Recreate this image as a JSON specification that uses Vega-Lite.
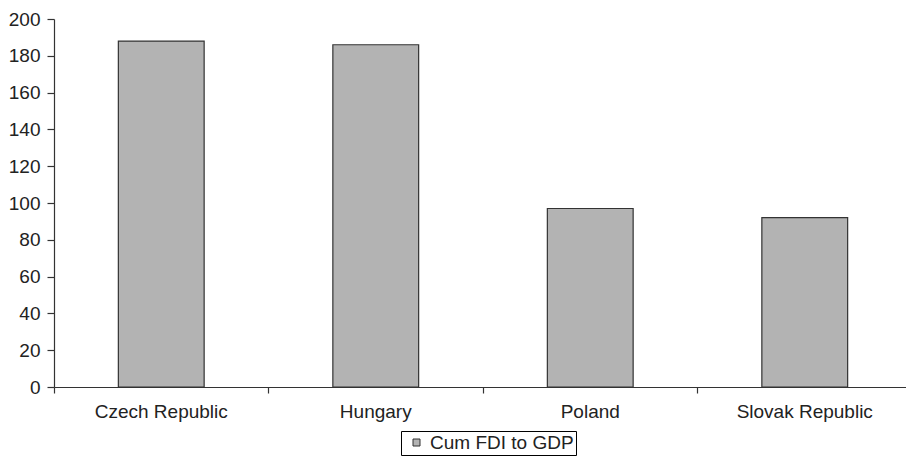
{
  "$schema": "https://vega.github.io/schema/vega-lite/v6.json",
  "autosize": "none",
  "width": 852,
  "height": 368,
  "padding": {"left": 54, "top": 19, "right": 0, "bottom": 72},
  "background": "white",
  "config": {
    "view": {"stroke": null},
    "font": "Liberation Sans",
    "axis": {"labelFont": "Liberation Sans", "labelFontSize": 19, "labelColor": "#222", "domainColor": "#333", "tickColor": "#333", "domainWidth": 1.2, "tickWidth": 1.2, "grid": false, "title": null}
  },
  "data": {
    "values": [
      {"country": "Czech Republic", "value": 188, "series": "Cum FDI to GDP"},
      {"country": "Hungary", "value": 186, "series": "Cum FDI to GDP"},
      {"country": "Poland", "value": 97, "series": "Cum FDI to GDP"},
      {"country": "Slovak Republic", "value": 92, "series": "Cum FDI to GDP"}
    ]
  },
  "mark": {"type": "bar", "stroke": "#333", "strokeWidth": 1.2},
  "encoding": {
    "x": {
      "field": "country",
      "type": "nominal",
      "sort": null,
      "scale": {"paddingInner": 0.6, "paddingOuter": 0.3, "range": [0, 858]},
      "axis": {"labelAngle": 0, "tickSize": 6, "labelPadding": 9, "bandPosition": -0.75}
    },
    "y": {
      "field": "value",
      "type": "quantitative",
      "scale": {"domain": [0, 200], "nice": false},
      "axis": {"values": [0, 20, 40, 60, 80, 100, 120, 140, 160, 180, 200], "tickSize": 7, "labelPadding": 7}
    },
    "color": {
      "field": "series",
      "type": "nominal",
      "scale": {"range": ["#b3b3b3"]},
      "legend": {
        "title": null,
        "orient": "none",
        "legendX": 347,
        "legendY": 412,
        "strokeColor": "#000",
        "padding": 2,
        "symbolType": "square",
        "symbolSize": 49,
        "symbolOffset": 4,
        "symbolStrokeColor": "#333",
        "symbolStrokeWidth": 1,
        "labelFont": "Liberation Sans",
        "labelFontSize": 19,
        "labelColor": "#222",
        "labelOffset": 4
      }
    }
  }
}
